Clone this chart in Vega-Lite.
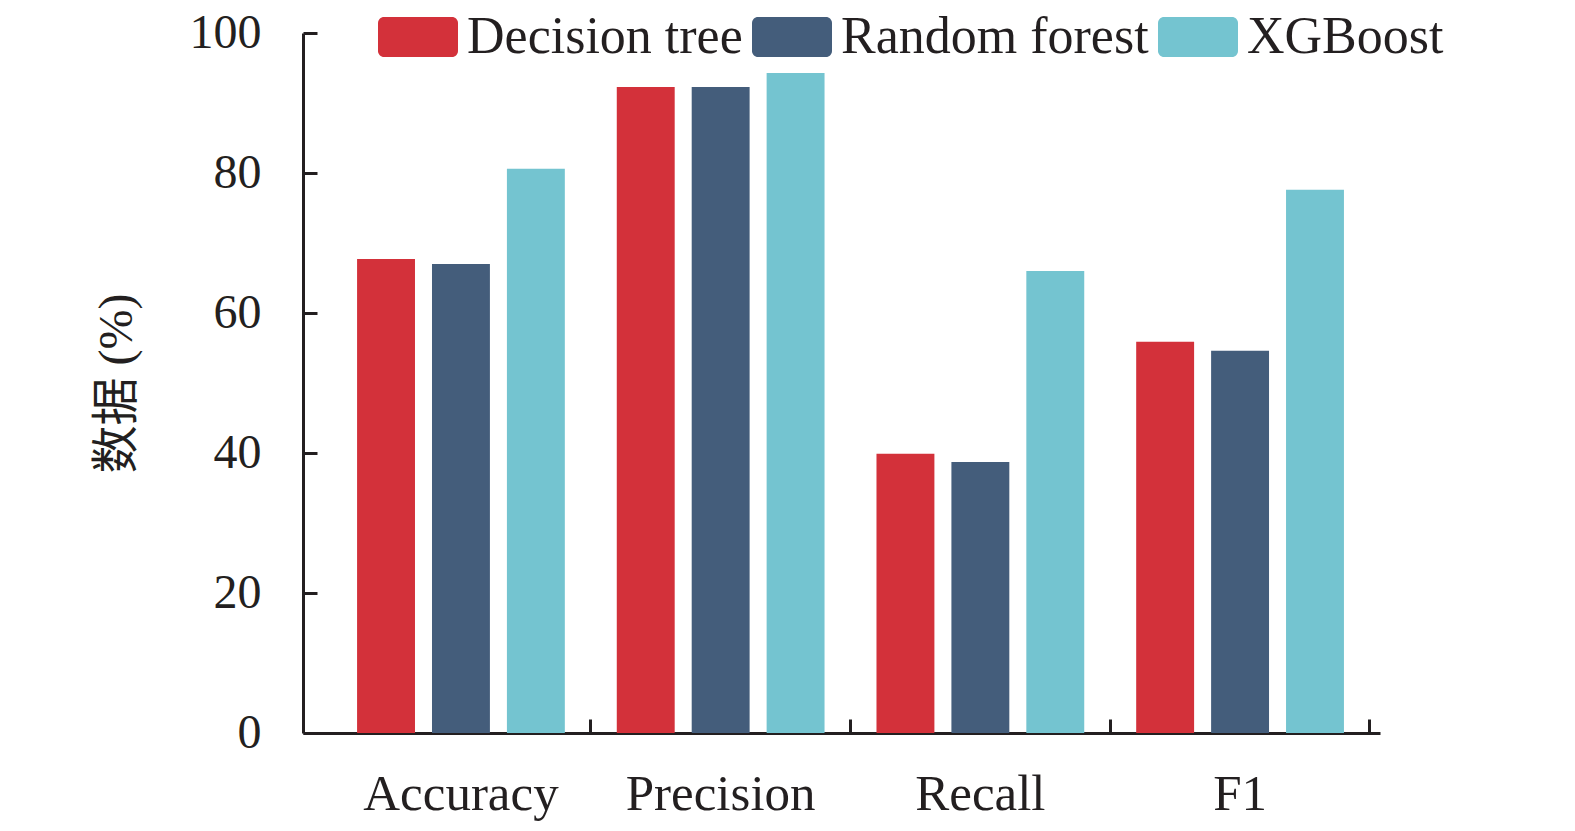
{
  "$schema": "https://vega.github.io/schema/vega-lite/v6.json",
  "width": 1077,
  "height": 700,
  "autosize": {"type": "none"},
  "padding": {"left": 303, "top": 33, "right": 195, "bottom": 98},
  "config": {
    "font": "Liberation Serif, Noto Sans CJK SC",
    "view": {"stroke": null},
    "axis": {
      "domainColor": "#231F20",
      "domainWidth": 3,
      "tickColor": "#231F20",
      "tickWidth": 3,
      "labelColor": "#231F20",
      "titleColor": "#231F20",
      "grid": false
    }
  },
  "data": {
    "values": [
      {"metric": "Accuracy", "model": "Decision tree", "value": 67.7},
      {"metric": "Accuracy", "model": "Random forest", "value": 67.0},
      {"metric": "Accuracy", "model": "XGBoost", "value": 80.6},
      {"metric": "Precision", "model": "Decision tree", "value": 92.3},
      {"metric": "Precision", "model": "Random forest", "value": 92.3},
      {"metric": "Precision", "model": "XGBoost", "value": 94.3},
      {"metric": "Recall", "model": "Decision tree", "value": 39.9},
      {"metric": "Recall", "model": "Random forest", "value": 38.7},
      {"metric": "Recall", "model": "XGBoost", "value": 66.0},
      {"metric": "F1", "model": "Decision tree", "value": 55.9},
      {"metric": "F1", "model": "Random forest", "value": 54.6},
      {"metric": "F1", "model": "XGBoost", "value": 77.6}
    ]
  },
  "mark": {"type": "bar"},
  "encoding": {
    "x": {
      "field": "metric",
      "type": "nominal",
      "sort": null,
      "scale": {"paddingInner": 0.2, "paddingOuter": 0.1735, "align": 0.6},
      "axis": {
        "title": null,
        "labelAngle": 0,
        "labelFontSize": 51,
        "labelLimit": 0,
        "bandPosition": 1.125,
        "tickSize": -14,
        "labelPadding": 50
      }
    },
    "xOffset": {
      "field": "model",
      "type": "nominal",
      "sort": ["Decision tree", "Random forest", "XGBoost"],
      "scale": {"paddingInner": 0.227, "paddingOuter": 0}
    },
    "y": {
      "field": "value",
      "type": "quantitative",
      "scale": {"domain": [0, 100]},
      "axis": {
        "title": "数据 (%)",
        "titleFontSize": 48,
        "titleFontWeight": "normal",
        "titlePadding": 48,
        "values": [0, 20, 40, 60, 80, 100],
        "labelFontSize": 48,
        "tickSize": -14,
        "labelPadding": 56
      }
    },
    "color": {
      "field": "model",
      "type": "nominal",
      "scale": {
        "domain": ["Decision tree", "Random forest", "XGBoost"],
        "range": ["#D3313A", "#445D7B", "#74C4D0"]
      },
      "legend": {
        "orient": "none",
        "legendX": 75,
        "legendY": -36,
        "direction": "horizontal",
        "title": null,
        "padding": 0,
        "symbolType": "M-0.85,-0.5H0.85A0.15,0.15 0 0 1 1,-0.35V0.35A0.15,0.15 0 0 1 0.85,0.5H-0.85A0.15,0.15 0 0 1 -1,0.35V-0.35A0.15,0.15 0 0 1 -0.85,-0.5Z",
        "symbolSize": 6400,
        "symbolStrokeWidth": 0,
        "symbolOpacity": 1,
        "labelFontSize": 52,
        "labelColor": "#231F20",
        "labelOffset": 9,
        "labelLimit": 0,
        "columnPadding": 9
      }
    }
  }
}
